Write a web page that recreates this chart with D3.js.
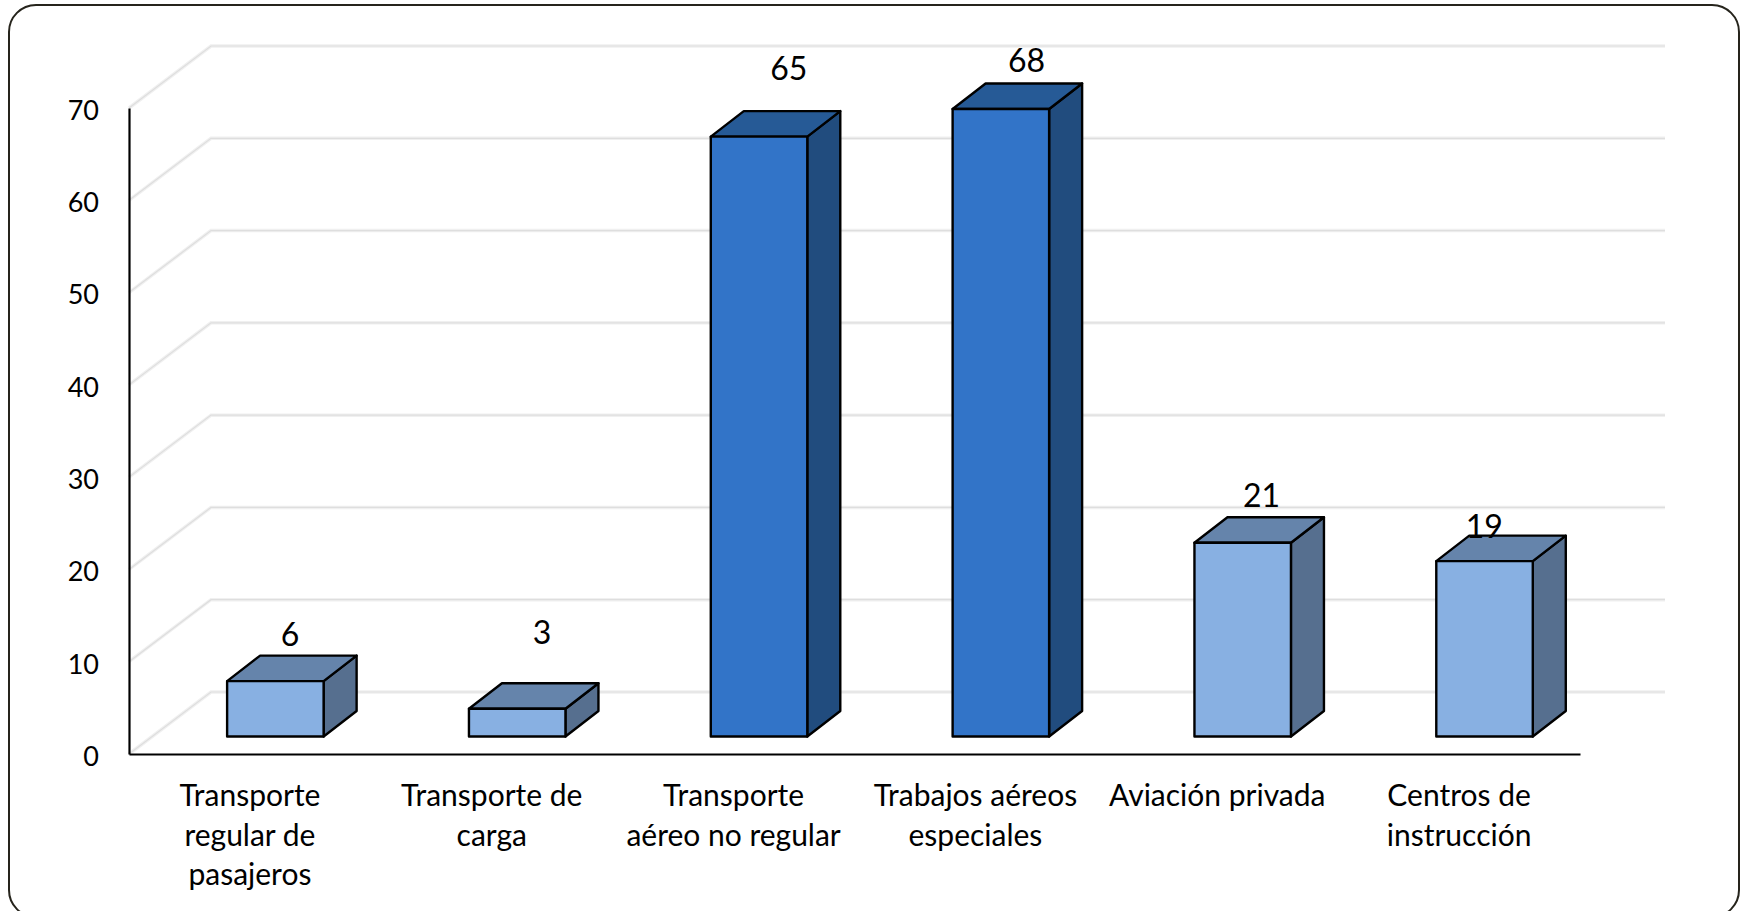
<!DOCTYPE html>
<html>
<head>
<meta charset="utf-8">
<title>Chart</title>
<script src="https://cdn.jsdelivr.net/npm/d3@7"></script>
<style>
    html, body { margin: 0; padding: 0; background: #fff; overflow: hidden; }
    svg { display: block; }
    text { font-family: Lato, "Open Sans", sans-serif; fill: #000; }
</style>
</head>
<body>
<div id="chart"></div>
<script>
// Chart data
const categories = [
    'Transporte regular de pasajeros',
    'Transporte de carga',
    'Transporte aéreo no regular',
    'Trabajos aéreos especiales',
    'Aviación privada',
    'Centros de instrucción'
];
const categoryLines = [
    ['Transporte', 'regular de', 'pasajeros'],
    ['Transporte de', 'carga'],
    ['Transporte', 'aéreo no regular'],
    ['Trabajos aéreos', 'especiales'],
    ['Aviación privada'],
    ['Centros de', 'instrucción']
];
const values = [6, 3, 65, 68, 21, 19];
const highlighted = ['Transporte aéreo no regular', 'Trabajos aéreos especiales'];
const yTicks = [0, 10, 20, 30, 40, 50, 60, 70];

// Labels were moved by hand in the original, so each has its own nudge
const labelShiftX = [63, 73, 78, 74, 67, 48];
const labelShiftY = [46, 76, 68, 48, 47, 34];

const width = 1741;
const height = 911;

// Wall depth of the 3D box, and depth of each bar
const wallDx = 82;
const wallDy = 62;
const barDx = 33;
const barDy = 25.5;
const barWidth = 96.5;
const barOffset = -22.8;
const floorLift = 17.5;

const lightColors = { front: '#88b0e2', top: '#6584ab', side: '#566f8f' };
const darkColors = { front: '#3274c8', top: '#265a96', side: '#214c7e' };

const svg = d3.select('#chart')
    .append('svg')
    .attr('width', width)
    .attr('height', height);

// Frame around the chart, the bottom edge falls off the picture
svg.append('rect')
    .attr('x', 9)
    .attr('y', 5)
    .attr('width', 1730)
    .attr('height', 912)
    .attr('rx', 27)
    .attr('ry', 27)
    .attr('fill', '#fff')
    .attr('stroke', '#26241c')
    .attr('stroke-width', 2);

const x = d3.scaleBand()
    .domain(categories)
    .range([129, 1580]);

const y = d3.scaleLinear()
    .domain([0, 70])
    .range([754, 108]);

// Back wall gridlines, drawn twice for the soft double line
[{ color: '#f0f0f0', w: 3.5 }, { color: '#dedede', w: 1.2 }].forEach(s => {
    svg.append('g')
        .selectAll('path')
        .data(yTicks)
        .enter()
        .append('path')
        .attr('d', d => {
            const p = d3.path();
            p.moveTo(x.range()[0], y(d));
            p.lineTo(x.range()[0] + wallDx, y(d) - wallDy);
            p.lineTo(1665, y(d) - wallDy);
            return p.toString();
        })
        .attr('fill', 'none')
        .attr('stroke', s.color)
        .attr('stroke-width', s.w);
});

// Axes
const yAxis = svg.append('g')
    .attr('transform', `translate(${x.range()[0]},0)`)
    .call(d3.axisLeft(y).tickValues(yTicks).tickSize(0).tickPadding(30));

yAxis.select('.domain').attr('stroke', '#000').attr('stroke-width', 2.2);
yAxis.selectAll('text')
    .style('font-size', '27px')
    .attr('fill', '#000')
    .attr('dy', '0.42em');

const xAxis = svg.append('g')
    .attr('transform', `translate(0,${y(0)})`)
    .call(d3.axisBottom(x).tickSize(0).tickFormat(''));

xAxis.select('.domain').attr('stroke', '#000').attr('stroke-width', 2.2);

xAxis.selectAll('.tick text')
    .attr('y', 0)
    .attr('dy', 0)
    .style('font-size', '30px')
    .attr('fill', '#000')
    .each(function(d, i) {
        d3.select(this)
            .selectAll('tspan')
            .data(categoryLines[i])
            .enter()
            .append('tspan')
            .attr('x', 0)
            .attr('y', (line, j) => 52 + j * 39.5)
            .text(line => line);
    });

// Bars
function barFaces(d, i) {
    const left = x(d) + x.bandwidth() / 2 + barOffset;
    const right = left + barWidth;
    const base = y(0) - floorLift;
    const top = base - (y(0) - y(values[i]));
    return { left, right, base, top };
}

function facePath(points) {
    const p = d3.path();
    points.forEach((pt, i) => i ? p.lineTo(pt[0], pt[1]) : p.moveTo(pt[0], pt[1]));
    p.closePath();
    return p.toString();
}

const bars = svg.append('g')
    .selectAll('g')
    .data(categories)
    .enter()
    .append('g')
    .attr('stroke', '#000')
    .attr('stroke-width', 2.4)
    .attr('stroke-linejoin', 'round');

const colorOf = d => highlighted.includes(d) ? darkColors : lightColors;

bars.append('path')
    .attr('fill', d => colorOf(d).side)
    .attr('d', (d, i) => {
        const f = barFaces(d, i);
        return facePath([
            [f.right, f.top],
            [f.right + barDx, f.top - barDy],
            [f.right + barDx, f.base - barDy],
            [f.right, f.base]
        ]);
    });

bars.append('path')
    .attr('fill', d => colorOf(d).top)
    .attr('d', (d, i) => {
        const f = barFaces(d, i);
        return facePath([
            [f.left, f.top],
            [f.left + barDx, f.top - barDy],
            [f.right + barDx, f.top - barDy],
            [f.right, f.top]
        ]);
    });

bars.append('path')
    .attr('fill', d => colorOf(d).front)
    .attr('d', (d, i) => {
        const f = barFaces(d, i);
        return facePath([[f.left, f.top], [f.right, f.top], [f.right, f.base], [f.left, f.base]]);
    });

// Data labels
svg.append('g')
    .selectAll('text')
    .data(categories)
    .enter()
    .append('text')
    .attr('x', (d, i) => barFaces(d, i).left + labelShiftX[i])
    .attr('y', (d, i) => barFaces(d, i).top - labelShiftY[i])
    .attr('dy', '0.35em')
    .attr('text-anchor', 'middle')
    .style('font-size', '32px')
    .text((d, i) => values[i]);
</script>
</body>
</html>
